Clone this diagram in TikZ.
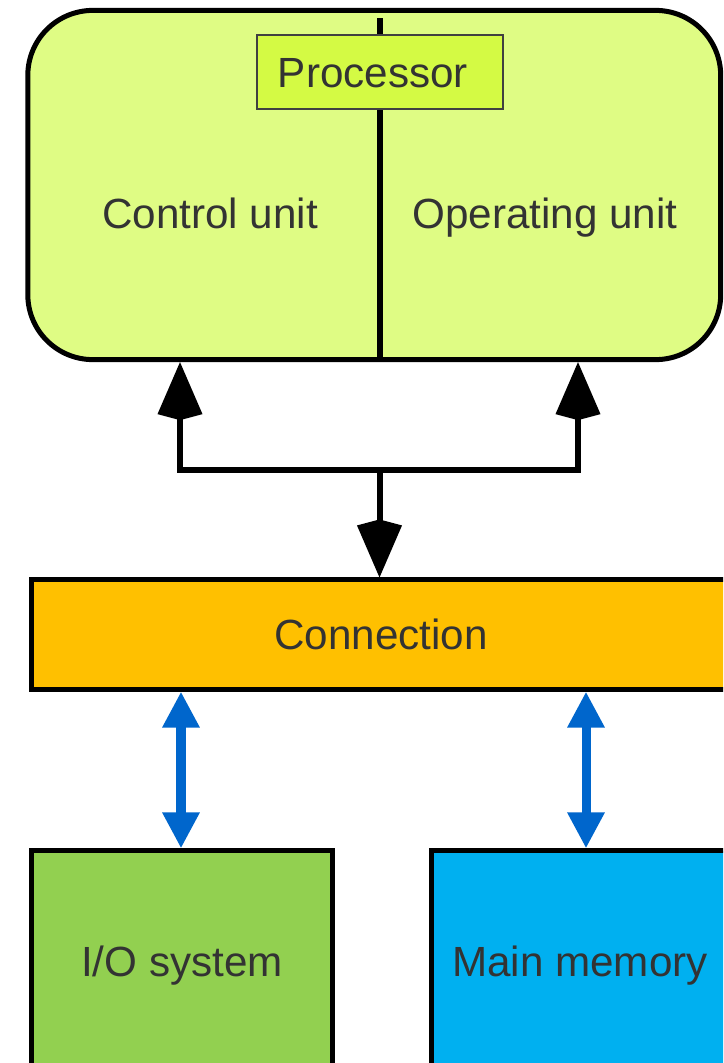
\documentclass[tikz,border=0pt]{standalone}
\usepackage{fontspec}
\setmainfont{Liberation Sans}
\usetikzlibrary{arrows.meta}
\colorlet{ink}{black!80}
\definecolor{procfill}{RGB}{223,252,132}
\definecolor{tagfill}{RGB}{212,250,68}
\definecolor{connfill}{RGB}{255,192,0}
\definecolor{iofill}{RGB}{146,208,80}
\definecolor{memfill}{RGB}{0,176,240}
\definecolor{busblue}{RGB}{0,102,204}
\tikzset{>=latex,
  fat/.tip={Kite[length=.58cm,width=.45cm,inset=.06cm]},
  thin/.tip={Triangle[length=.36cm,width=.35cm]}}
\tikzstyle{txt}=[text=ink,font=\fontsize{12pt}{14pt}\selectfont,text height=8.6pt,text depth=0pt]
\tikzstyle{block}=[txt,draw=black,line width=.05cm,inner sep=0]
\tikzstyle{wire}=[line width=.06cm,black]
\tikzstyle{bus}=[line width=.09cm,busblue,thin-thin]
\def\tagw{2.46cm}

\begin{document}
\begin{tikzpicture}[x=0.01cm,y=-0.01cm]
  \useasboundingbox (0,0) rectangle (723,1063);
  \clip (0,0) rectangle (723,1063);

  % PROCESSOR
  \node[block,fill=procfill,rounded corners=.65cm,minimum width=6.925cm,minimum height=3.49cm]
    (proc) at (374.25,185) {};
  \coordinate (div) at (379.5,18);
  \draw[wire] (div) -- (div |- proc.south);
  \node[txt,draw=black!75,line width=.012cm,fill=tagfill,minimum width=\tagw,minimum height=.74cm,
    inner xsep=.21cm,text width=\tagw-.42cm,align=left] (tag) at (380,72) {Processor};
  \node[txt] (cu) at (210,213) {Control unit};
  \node[txt] (ou) at (545,213) {Operating unit};

  % CONNECTION
  \node[block,fill=connfill,minimum width=6.98cm,minimum height=1.09cm] (conn) at (381,634.5) {Connection};

  % I/O AND MEMORY
  \node[block,fill=iofill,minimum width=3cm,minimum height=2.2cm] (io) at (182,961) {I/O system};
  \node[block,fill=memfill,minimum width=2.96cm,minimum height=2.2cm] (mem) at (580,961) {Main memory};

  % WIRES
  \coordinate (jl) at (180,470);
  \coordinate (jr) at (578,470);
  \coordinate (jm) at (379.5,470);
  \draw[wire,fat-fat] (jl |- proc.south) -- (jl) -- (jr) -- (jr |- proc.south);
  \draw[wire,-fat] (jm) -- (jm |- conn.north);

  % BUSES
  \coordinate (bl) at (181,0);
  \coordinate (br) at (586,0);
  \draw[bus] (bl |- conn.south) -- (bl |- io.north);
  \draw[bus] (br |- conn.south) -- (br |- mem.north);
\end{tikzpicture}
\end{document}
